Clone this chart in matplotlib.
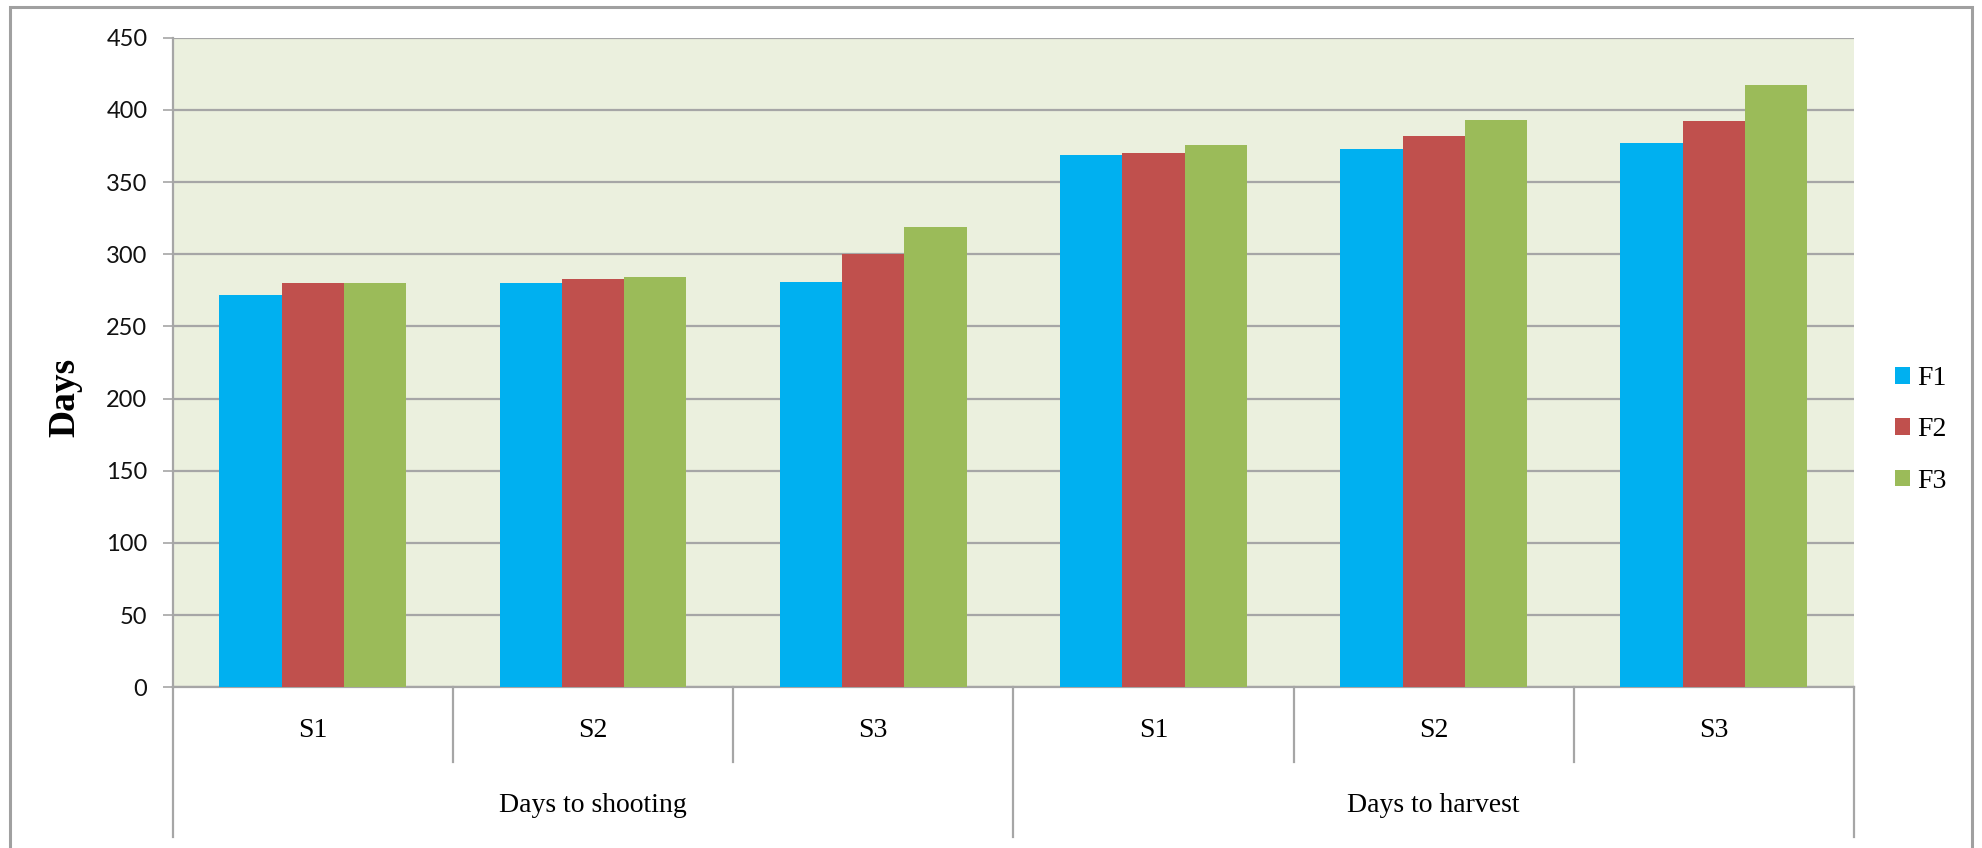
import numpy as np
import matplotlib.pyplot as plt
from matplotlib.lines import Line2D
from matplotlib.patches import Rectangle, Patch

plt.rcParams['font.family'] = 'Liberation Serif'

stages = ['S1', 'S2', 'S3', 'S1', 'S2', 'S3']
groups = ['Days to shooting', 'Days to harvest']
series = ['F1', 'F2', 'F3']
f1 = [272, 280, 281, 369, 373, 377]
f2 = [280, 283, 300, 370, 382, 392]
f3 = [280, 284, 319, 376, 393, 417]
colors = ['#00B0F0', '#C0504D', '#9BBB59']
grid_c = '#A6A6A6'

W, H = 1982, 848
fig = plt.figure(figsize=(W / 100, H / 100), dpi=100)
ax = fig.add_axes([172.7 / W, 1 - 687.3 / H, (1854 - 172.7) / W, (687.3 - 37.7) / H])
ax.set_facecolor('#EBF0DE')

x = np.arange(len(stages))
w = 1 / 4.5
for i, (vals, c) in enumerate(zip([f1, f2, f3], colors)):
    ax.bar(x + (i - 1) * w, vals, w, color=c, zorder=3, label=series[i])

ax.set_xlim(-0.5, len(stages) - 0.5)
ax.set_ylim(0, 450)
ax.set_yticks(np.arange(0, 451, 50))
ax.yaxis.grid(True, color=grid_c, linewidth=1.6, zorder=1)
ax.set_axisbelow(True)
ax.set_xticks([])
ax.tick_params(axis='y', length=7.2, width=1.2, color=grid_c, pad=11)
for lab in ax.get_yticklabels():
    lab.set_fontfamily('Lato')
    lab.set_fontsize(17)
    lab.set_color('#111111')
for s in ['top', 'right']:
    ax.spines[s].set_visible(False)
for s in ['left', 'bottom']:
    ax.spines[s].set_color(grid_c)
    ax.spines[s].set_linewidth(1.6)

# two-level category axis below the plot
axis_h = 687.3 - 37.7
lvl1 = -(761.7 - 687.3) / axis_h
lvl2 = -(837 - 687.3) / axis_h
tr = ax.get_xaxis_transform()
for k in range(len(stages) + 1):
    xe = k - 0.5
    bottom = lvl2 if k % 3 == 0 else lvl1
    ax.add_line(Line2D([xe, xe], [0, bottom], transform=tr, color=grid_c,
                       linewidth=1.6, clip_on=False))
for i, s in enumerate(stages):
    ax.text(i, -(730.7 - 687.3) / axis_h, s, transform=tr, ha='center',
            va='center', fontsize=20)
for j, g in enumerate(groups):
    ax.text(3 * j + 1, -(805 - 687.3) / axis_h, g, transform=tr, ha='center',
            va='center', fontsize=20)

fig.text(65 / W, 1 - 397 / H, 'Days', rotation=90, ha='center', va='center',
         fontsize=27, fontweight='bold')

handles = [Patch(facecolor=c, edgecolor='none') for c in colors]
fig.legend(handles, series, loc='center left', bbox_to_anchor=(1895 / W, 1 - 430 / H),
           frameon=False, fontsize=20, handlelength=0.55, handleheight=0.55,
           handletextpad=0.25, labelspacing=0.95, borderpad=0, borderaxespad=0)

# chart border
fig.patches.append(Rectangle((10 / W, -0.05), (1972 - 10) / W, 1.05 - 6.7 / H,
                             transform=fig.transFigure, fill=False,
                             edgecolor='#A0A0A0', linewidth=2.2))

fig.savefig('out.png', dpi=100)
